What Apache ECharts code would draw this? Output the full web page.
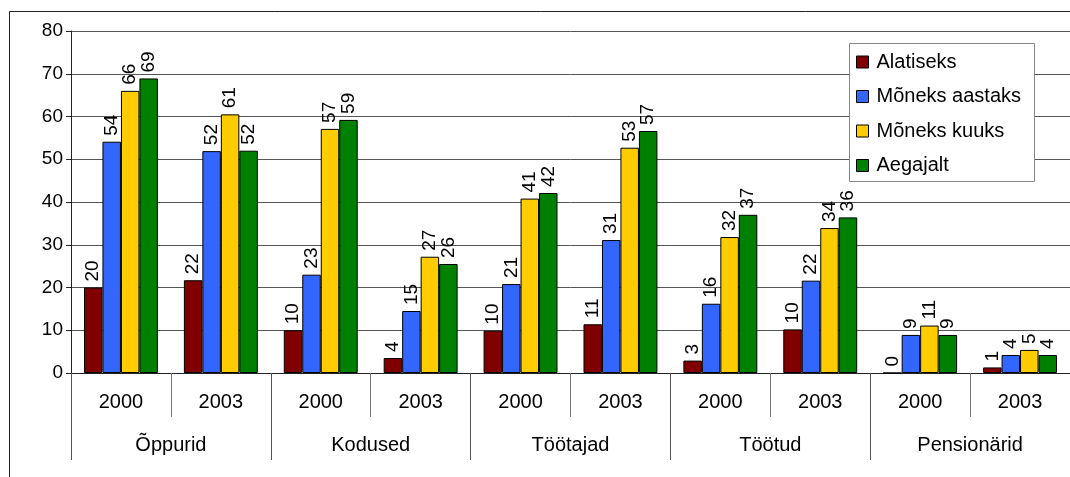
<!DOCTYPE html>
<html>
<head>
<meta charset="utf-8">
<script src="https://cdn.jsdelivr.net/npm/echarts@6/dist/echarts.min.js"></script>
<style>
html,body{margin:0;padding:0;background:#fff;}
#c{width:1070px;height:477px;}
</style>
</head>
<body>
<div id="c"></div>
<script>
const years = ['2000','2003','2000','2003','2000','2003','2000','2003','2000','2003'];
const groups = ['Õppurid','Kodused','Töötajad','Töötud','Pensionärid'];
const seriesNames = ['Alatiseks','Mõneks aastaks','Mõneks kuuks','Aegajalt'];
const alatiseks   = [20, 21.7, 10, 3.5, 9.9, 11.4, 2.9, 10.2, 0, 1.3];
const moneksAast  = [54.1, 51.9, 23, 14.5, 20.8, 31.1, 16.2, 21.6, 8.9, 4.2];
const moneksKuu   = [66, 60.5, 57.1, 27.2, 40.8, 52.7, 31.8, 33.9, 11.1, 5.4];
const aegajalt    = [68.9, 52, 59.2, 25.5, 42.1, 56.6, 37, 36.4, 8.9, 4.2];
const yTicks = {min: 0, max: 80, interval: 10};
const colors = ['#800000', '#3366FF', '#FFCC00', '#008000'];

const font = '"Liberation Sans", Arial, sans-serif';
const values = [alatiseks, moneksAast, moneksKuu, aegajalt];

const chart = echarts.init(document.getElementById('c'), null, {renderer: 'canvas'});
chart.setOption({
  animation: false,
  backgroundColor: '#fff',
  color: colors,
  textStyle: {fontFamily: font, color: '#000'},
  grid: {left: 71, top: 31, right: -4, bottom: 104, containLabel: false},
  graphic: [
    {type: 'rect', z: 0, silent: true,
     shape: {x: 9.5, y: 11.5, width: 1080, height: 480},
     style: {fill: null, stroke: '#222', lineWidth: 1}},
    {type: 'rect', z: 50, silent: true,
     shape: {x: 849.5, y: 43.5, width: 185, height: 138},
     style: {fill: '#fff', stroke: '#888', lineWidth: 1}}
  ],
  legend: {
    z: 60,
    orient: 'vertical',
    left: 856, top: 52,
    padding: 0,
    itemWidth: 12, itemHeight: 12, itemGap: 14.5,
    icon: 'rect',
    itemStyle: {borderColor: '#000', borderWidth: 1},
    textStyle: {fontSize: 20, fontFamily: font, color: '#000', padding: [0, 0, 0, 3]},
    data: seriesNames
  },
  xAxis: [
    {type: 'category', data: years, position: 'bottom',
     axisLine: {show: true, lineStyle: {color: '#222', width: 1}},
     axisTick: {show: true, interval: 0, length: 44, lineStyle: {color: '#777'}},
     axisLabel: {interval: 0, fontSize: 20, margin: 19, color: '#000', fontFamily: font}},
    {type: 'category', data: groups, position: 'bottom',
     axisLine: {show: false},
     axisTick: {show: true, interval: 0, length: 87, lineStyle: {color: '#555'}},
     axisLabel: {interval: 0, fontSize: 20, margin: 62, color: '#000', fontFamily: font},
     splitLine: {show: false}}
  ],
  yAxis: {
    type: 'value', min: yTicks.min, max: yTicks.max, interval: yTicks.interval,
    axisLine: {show: true, lineStyle: {color: '#222'}},
    axisTick: {show: true, length: 5, lineStyle: {color: '#222'}},
    axisLabel: {fontSize: 19, margin: 8, color: '#000', fontFamily: font},
    splitLine: {show: true, lineStyle: {color: '#555', width: 1}}
  },
  series: seriesNames.map((n, i) => ({
    name: n, type: 'bar', xAxisIndex: 0,
    data: values[i],
    barGap: '0%', barCategoryGap: '26%',
    itemStyle: {color: colors[i], borderColor: '#000', borderWidth: 1},
    label: {
      show: true, position: 'top', rotate: 90, distance: 6,
      align: 'left', verticalAlign: 'middle',
      fontSize: 19, color: '#000', fontFamily: font,
      formatter: p => Math.round(p.value)
    }
  }))
});
</script>
</body>
</html>
